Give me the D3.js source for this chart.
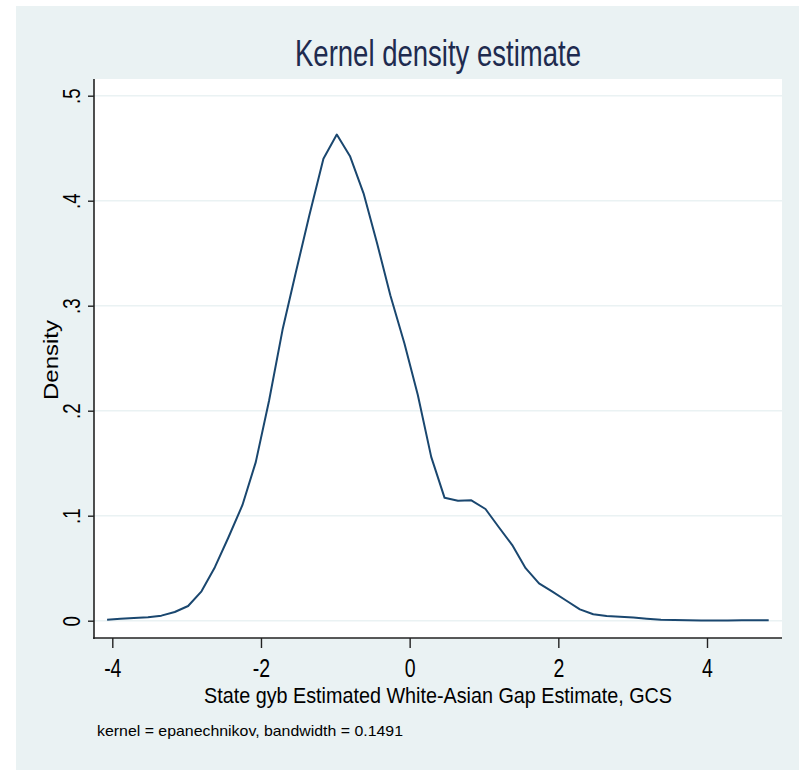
<!DOCTYPE html>
<html lang="en">
  <head>
    <meta charset="utf-8" />
    <title>Kernel density estimate</title>
    <script src="https://d3js.org/d3.v7.min.js"></script>
    <style type="text/css">
        body { margin:0; background:#fff; }
        text { font-family:"Liberation Sans", Arial, sans-serif; }
    </style>
  </head>
  <body>
  <svg id="chart"></svg>
  <script type="text/javascript">

    var w = 799,
        h = 770;

    // kdensity evaluation grid and estimated density
    var gridX = [-4.07, -3.89, -3.71, -3.52, -3.34, -3.16, -2.98, -2.80, -2.62, -2.44,
                 -2.25, -2.07, -1.89, -1.71, -1.53, -1.35, -1.16, -0.98, -0.80, -0.62,
                 -0.44, -0.26, -0.07, 0.11, 0.29, 0.47, 0.65, 0.83, 1.02, 1.20,
                 1.38, 1.56, 1.74, 1.92, 2.11, 2.29, 2.47, 2.65, 2.83, 3.01,
                 3.19, 3.38, 3.56, 3.74, 3.92, 4.10, 4.28, 4.47, 4.65, 4.83];
    var density = [0.001, 0.0018, 0.0025, 0.0032, 0.0048, 0.0083, 0.014, 0.028, 0.051, 0.079,
                   0.110, 0.151, 0.210, 0.277, 0.332, 0.386, 0.440, 0.463, 0.442, 0.407,
                   0.360, 0.310, 0.264, 0.215, 0.156, 0.117, 0.1143, 0.1146, 0.1064, 0.089,
                   0.072, 0.050, 0.0356, 0.0276, 0.019, 0.0108, 0.0061, 0.0045, 0.0038, 0.003,
                   0.0018, 0.0008, 0.0006, 0.0005, 0.0002, 0.0001, 0.0001, 0.0004, 0.0005, 0.0005];

    var xTicks = [-4, -2, 0, 2, 4];
    var yTicks = [0, 0.1, 0.2, 0.3, 0.4, 0.5];
    var yTickLabels = ['0', '.1', '.2', '.3', '.4', '.5'];

    var titleText = 'Kernel density estimate',
        xTitle = 'State gyb Estimated White-Asian Gap Estimate, GCS',
        yTitle = 'Density',
        noteText = 'kernel = epanechnikov, bandwidth = 0.1491';

    var plot = { left: 94, right: 782, top: 79, bottom: 638 };

    var svg = d3.select('#chart')
                .attr('width', w)
                .attr('height', h);

    // outer graph region
    svg.append('rect')
       .attr('x', 16).attr('y', 6)
       .attr('width', w - 16).attr('height', h - 6)
       .attr('fill', '#eaf2f3');

    // plot region
    svg.append('rect')
       .attr('x', plot.left).attr('y', plot.top)
       .attr('width', plot.right - plot.left)
       .attr('height', plot.bottom - plot.top)
       .attr('fill', '#fff');

    var xScale = d3.scaleLinear()
                   .domain([-4, 4])
                   .range([112.3, 707]);
    var yScale = d3.scaleLinear()
                   .domain([0, 0.5])
                   .range([620.7, 95.7]);

    // gridlines
    svg.selectAll('line.grid')
       .data(yTicks)
       .enter()
       .append('line')
       .attr('class', 'grid')
       .attr('x1', plot.left).attr('x2', plot.right)
       .attr('y1', function(d) { return yScale(d); })
       .attr('y2', function(d) { return yScale(d); })
       .attr('stroke', '#eaf2f3')
       .attr('stroke-width', 1.6);

    // density curve
    var line = d3.line()
                 .x(function(d, i) { return xScale(gridX[i]); })
                 .y(function(d) { return yScale(d); });

    svg.append('path')
       .datum(density)
       .attr('d', line)
       .attr('fill', 'none')
       .attr('stroke', '#1a476f')
       .attr('stroke-width', 2)
       .attr('stroke-linejoin', 'round');

    // x axis
    var xAxis = d3.axisBottom(xScale)
                  .tickValues(xTicks)
                  .tickSize(10)
                  .tickSizeOuter(0)
                  .tickFormat(d3.format('d'));
    var gx = svg.append('g')
                .attr('transform', 'translate(0,' + plot.bottom + ')')
                .call(xAxis);
    gx.select('.domain').remove();
    gx.append('line')
      .attr('x1', plot.left - 1).attr('x2', plot.right)
      .attr('stroke', '#222').attr('stroke-width', 1.6);
    gx.selectAll('.tick line').attr('stroke', '#222').attr('stroke-width', 1.4);
    gx.selectAll('.tick text')
      .text(function(d) { return d < 0 ? '-' + Math.abs(d) : d; })
      .attr('y', 0)
      .attr('dy', 0)
      .attr('fill', '#000')
      .attr('font-size', 25)
      .attr('transform', 'translate(0,39) scale(0.78,1)')
      .attr('font-family', '"Liberation Sans", Arial, sans-serif');

    // y axis
    var yAxis = d3.axisLeft(yScale)
                  .tickValues(yTicks)
                  .tickSize(6)
                  .tickSizeOuter(0)
                  .tickFormat(function(d, i) { return yTickLabels[i]; });
    var gy = svg.append('g')
                .attr('transform', 'translate(' + plot.left + ',0)')
                .call(yAxis);
    gy.select('.domain').remove();
    gy.append('line')
      .attr('y1', plot.top).attr('y2', plot.bottom + 1)
      .attr('stroke', '#222').attr('stroke-width', 1.6);
    gy.selectAll('.tick line').attr('stroke', '#222').attr('stroke-width', 1.4);
    gy.selectAll('.tick text')
      .attr('x', 0).attr('y', 0).attr('dy', 0)
      .attr('text-anchor', 'middle')
      .attr('fill', '#000')
      .attr('font-size', 24)
      .attr('transform', 'translate(-14,0) rotate(-90) scale(0.78,1)')
      .attr('font-family', '"Liberation Sans", Arial, sans-serif');

    // titles
    svg.append('text')
       .attr('x', 438).attr('y', 66)
       .attr('text-anchor', 'middle')
       .attr('font-size', 36)
       .attr('fill', '#1e2b4f')
       .attr('textLength', 286)
       .attr('lengthAdjust', 'spacingAndGlyphs')
       .text(titleText);

    svg.append('text')
       .attr('x', 438).attr('y', 703)
       .attr('text-anchor', 'middle')
       .attr('font-size', 22)
       .attr('fill', '#000')
       .attr('textLength', 468)
       .attr('lengthAdjust', 'spacingAndGlyphs')
       .text(xTitle);

    svg.append('text')
       .attr('transform', 'translate(58,360) rotate(-90)')
       .attr('text-anchor', 'middle')
       .attr('font-size', 21)
       .attr('fill', '#000')
       .attr('textLength', 80)
       .attr('lengthAdjust', 'spacingAndGlyphs')
       .text(yTitle);

    svg.append('text')
       .attr('x', 97).attr('y', 736)
       .attr('font-size', 15)
       .attr('fill', '#000')
       .attr('textLength', 306)
       .attr('lengthAdjust', 'spacingAndGlyphs')
       .text(noteText);
    </script>
  </body>
</html>
